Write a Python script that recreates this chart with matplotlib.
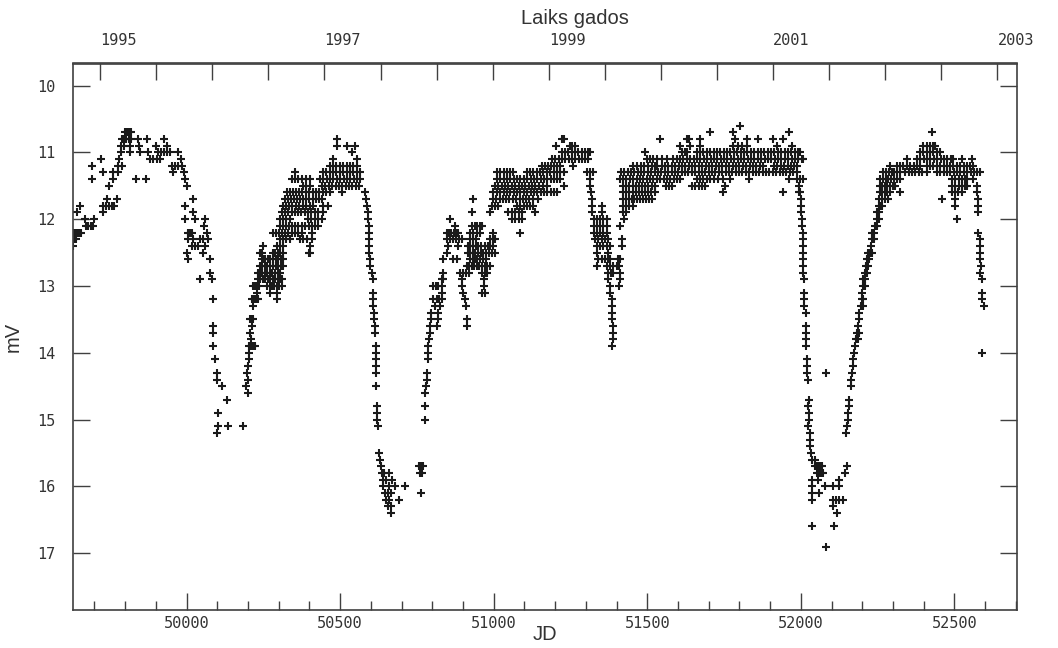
import matplotlib
matplotlib.use("Agg")
import matplotlib.pyplot as plt
from matplotlib.ticker import MultipleLocator

# Visual estimates, grouped by observing season.
# Each row: (magnitude mV, [JD - 2400000, ...])
season_1995 = [
    (10.7, [49799, 49806, 49812, 49818]),
    (10.8, [49790, 49797, 49804, 49811, 49818, 49841, 49871, 49926]),
    (10.9, [49787, 49797, 49815, 49845, 49900, 49936]),
    (11.0, [49786, 49815, 49848, 49874, 49907, 49917, 49927, 49937, 49946, 49972]),
    (11.1, [49721, 49779, 49880, 49892, 49904, 49913, 49981]),
    (11.2, [49692, 49776, 49789, 49952, 49962, 49972, 49985]),
    (11.3, [49727, 49760, 49776, 49955, 49991]),
    (11.4, [49692, 49760, 49835, 49867, 49994]),
    (11.5, [49747, 50001]),
    (11.7, [49740, 49773, 50021]),
    (11.8, [49652, 49727, 49736, 49746, 49756, 49765, 49994]),
    (11.9, [49643, 49727, 50021]),
    (12.0, [49669, 49698, 49994, 50027, 50060]),
    (12.1, [49672, 49680, 49688, 49695, 50056]),
    (12.2, [49630, 49636, 49642, 49648, 49655, 50004, 50011, 50017, 50066]),
    (12.3, [49632, 49640, 50004, 50021, 50043, 50053, 50070]),
    (12.4, [49630, 50017, 50027, 50037, 50060]),
    (12.5, [50001, 50053]),
    (12.6, [50004, 50076]),
    (12.8, [50076]),
    (12.9, [50043, 50082]),
    (13.2, [50086]),
    (13.6, [50086]),
    (13.7, [50086]),
    (13.9, [50086]),
    (14.1, [50092]),
    (14.3, [50099]),
    (14.4, [50099]),
    (14.5, [50115]),
    (14.7, [50131]),
    (14.9, [50102]),
    (15.1, [50102, 50135, 50183]),
    (15.2, [50099]),
]

season_1996 = [
    (14.6, [50200]),
    (14.5, [50193]),
    (14.4, [50200]),
    (14.3, [50196]),
    (14.2, [50200]),
    (14.1, [50203]),
    (14.0, [50203]),
    (13.9, [50203, 50210, 50216, 50222]),
    (13.8, [50209]),
    (13.7, [50206]),
    (13.6, [50213]),
    (13.5, [50206, 50211, 50216]),
    (13.3, [50216]),
    (13.2, [50213, 50220, 50226, 50232, 50294]),
    (13.1, [50229, 50271, 50294]),
    (13.0, [50216, 50222, 50229, 50235, 50262, 50270, 50278, 50286, 50294, 50302, 50310]),
    (12.9, [50232, 50240, 50248, 50256, 50264, 50272, 50281, 50289, 50297, 50305, 50310]),
    (12.8, [50232, 50239, 50247, 50255, 50263, 50271, 50279, 50288, 50297, 50304]),
    (12.7, [50239, 50247, 50255, 50263, 50272, 50281, 50290, 50299, 50306, 50314]),
    (12.6, [50245, 50248, 50256, 50264, 50272, 50281, 50290, 50298, 50306, 50314]),
    (12.5, [50239, 50245, 50281, 50289, 50297, 50305, 50314, 50398, 50402]),
    (12.4, [50248, 50294, 50304, 50314, 50402]),
    (12.3, [50304, 50314, 50325, 50336, 50369, 50380, 50392, 50408]),
    (12.2, [50281, 50290, 50300, 50310, 50320, 50330, 50343, 50353, 50364, 50375, 50408]),
    (12.1, [50304, 50314, 50324, 50334, 50344, 50354, 50364, 50375, 50386, 50398, 50408, 50418, 50428]),
    (12.0, [50304, 50314, 50325, 50336, 50395, 50405, 50418, 50428, 50441]),
    (11.9, [50310, 50320, 50330, 50343, 50353, 50363, 50373, 50385, 50395, 50405, 50418, 50428, 50444]),
    (11.8, [50314, 50324, 50334, 50344, 50356, 50366, 50378, 50390, 50402, 50411, 50444, 50460]),
    (11.7, [50320, 50330, 50340, 50350, 50360, 50370, 50380, 50390, 50400, 50410, 50420, 50430, 50441]),
    (11.6, [50327, 50337, 50347, 50357, 50367, 50377, 50388, 50399, 50410, 50421, 50432, 50443,
            50455, 50467, 50506, 50581]),
    (11.5, [50379, 50390, 50402, 50441, 50452, 50463, 50474, 50485, 50496, 50507, 50518, 50529,
            50540, 50551, 50562]),
    (11.4, [50343, 50353, 50363, 50375, 50388, 50402, 50434, 50445, 50456, 50467, 50478, 50489,
            50500, 50511, 50522, 50533, 50544, 50555, 50565]),
    (11.3, [50353, 50444, 50455, 50466, 50477, 50488, 50499, 50510, 50521, 50532, 50543, 50555, 50565]),
    (11.2, [50467, 50477, 50488, 50499, 50510, 50521, 50532, 50543, 50555]),
    (11.1, [50477, 50555]),
    (11.0, [50538]),
    (10.9, [50490, 50522, 50548]),
    (10.8, [50490]),
    # fade into the 1997 minimum
    (11.7, [50584]), (11.8, [50588]), (11.9, [50590]), (12.0, [50590]),
    (12.1, [50594]), (12.2, [50594]), (12.3, [50594]), (12.4, [50594]),
    (12.5, [50594]), (12.6, [50596]), (12.7, [50597]), (12.8, [50604]),
    (12.9, [50607]), (13.1, [50607]), (13.2, [50607]), (13.3, [50608]),
    (13.4, [50609]), (13.5, [50610]), (13.6, [50613]), (13.7, [50613]),
    (13.9, [50617]), (14.0, [50617]), (14.1, [50617]), (14.2, [50617]),
    (14.3, [50618]), (14.5, [50617]), (14.8, [50620]), (14.9, [50620]),
    (15.0, [50620]), (15.1, [50623]), (15.5, [50626]),
]

season_1998 = [
    (15.6, [50630]),
    (15.7, [50633]),
    (15.8, [50636, 50643, 50660]),
    (15.9, [50640, 50650, 50670]),
    (16.0, [50640, 50660, 50680, 50712]),
    (16.1, [50646, 50656, 50666]),
    (16.2, [50650, 50660, 50690]),
    (16.3, [50656, 50666]),
    (16.4, [50666]),
    (15.7, [50757, 50763, 50770]),
    (15.8, [50760, 50767]),
    (16.1, [50763]),
    (15.0, [50776]), (14.8, [50776]), (14.6, [50776]), (14.5, [50779]),
    (14.4, [50782]), (14.3, [50784]), (14.1, [50787]), (14.0, [50787]),
    (13.9, [50787]), (13.8, [50790]), (13.7, [50792]),
    (13.6, [50792, 50814, 50913]),
    (13.5, [50795, 50819, 50913]),
    (13.4, [50795, 50819]),
    (13.3, [50809, 50825, 50910]),
    (13.2, [50803, 50814, 50822, 50830, 50906]),
    (13.1, [50830, 50900, 50962, 50970]),
    (13.0, [50803, 50811, 50819, 50830, 50896, 50968]),
    (12.9, [50830, 50836, 50896, 50968]),
    (12.8, [50836, 50890, 50900, 50910, 50920, 50962, 50970, 50978]),
    (12.7, [50913, 50921, 50929, 50937, 50945, 50953, 50961, 50970, 50979, 50988]),
    (12.6, [50836, 50869, 50880, 50923, 50931, 50939, 50947, 50955, 50966, 50976]),
    (12.5, [50847, 50916, 50923, 50931, 50940, 50948, 50957, 50966, 50975, 50984, 50993, 51004]),
    (12.4, [50852, 50885, 50916, 50923, 50932, 50941, 50950, 50960, 50970, 50980, 50988, 50998]),
    (12.3, [50847, 50857, 50867, 50877, 50887, 50897, 50923, 50933, 50943, 50988, 50997, 51004]),
    (12.2, [50847, 50855, 50862, 50870, 50878, 50884, 50923, 50933, 50944, 50955, 50998, 51086]),
    (12.1, [50874, 50929, 50938, 50946, 50954, 50962]),
    (12.0, [50858, 51060, 51070, 51081, 51092]),
    (11.9, [50930, 50988, 51048, 51059, 51070, 51081, 51091, 51134]),
    (11.8, [50994, 51004, 51015, 51076, 51086, 51097, 51108, 51119, 51127]),
    (11.7, [50933, 50999, 51009, 51019, 51030, 51041, 51051, 51062, 51073, 51084, 51094, 51105,
            51116, 51127, 51143]),
    (11.6, [50999, 51010, 51021, 51032, 51043, 51054, 51065, 51076, 51087, 51098, 51109, 51120,
            51131, 51142, 51153, 51164, 51175, 51186, 51196, 51205]),
    (11.5, [51004, 51015, 51026, 51037, 51048, 51059, 51070, 51081, 51092, 51103, 51114, 51125,
            51136, 51147, 51160, 51172, 51229]),
    (11.4, [51010, 51021, 51032, 51043, 51054, 51065, 51076, 51087, 51098, 51109, 51120, 51131,
            51142, 51153, 51164, 51175, 51186, 51197, 51207, 51216]),
    (11.3, [51010, 51021, 51032, 51043, 51054, 51064, 51107, 51118, 51129, 51140, 51151, 51162,
            51173, 51184, 51195, 51206, 51216, 51229]),
    (11.2, [51156, 51166, 51176, 51186, 51196, 51206, 51216, 51259]),
    (11.1, [51189, 51200, 51211, 51222, 51233, 51244, 51255, 51266, 51277, 51288, 51298, 51308]),
    (11.0, [51221, 51232, 51243, 51254, 51265, 51276, 51287, 51298, 51308, 51314]),
    (10.9, [51203, 51248, 51256, 51265]),
    (10.8, [51221, 51230]),
    # the 1999 dip
    (11.3, [51304, 51314, 51324]),
    (11.4, [51314]), (11.5, [51314]), (11.6, [51316]), (11.7, [51319]),
    (11.8, [51319, 51352]),
    (11.9, [51320, 51352]),
    (12.0, [51325, 51335, 51346, 51357, 51369]),
    (12.1, [51325, 51335, 51346, 51357, 51369, 51411]),
    (12.2, [51325, 51335, 51346, 51357, 51369]),
    (12.3, [51330, 51341, 51352, 51363, 51373, 51418]),
    (12.4, [51335, 51346, 51357, 51369, 51379, 51418]),
    (12.5, [51335, 51373]),
    (12.6, [51341, 51352, 51363, 51373, 51379, 51405, 51411]),
    (12.7, [51335, 51368, 51379, 51390, 51400, 51408]),
    (12.8, [51373, 51383, 51390, 51410]),
    (12.9, [51373, 51410]),
    (13.0, [51379, 51408]),
    (13.1, [51379]), (13.2, [51384]), (13.3, [51385]), (13.4, [51386]),
    (13.5, [51386]), (13.6, [51388]), (13.7, [51388]), (13.8, [51388]), (13.9, [51386]),
]

season_2000 = [
    (12.0, [51425]),
    (11.9, [51422, 51430]),
    (11.8, [51422, 51430, 51440, 51452]),
    (11.7, [51422, 51431, 51440, 51449, 51458, 51467, 51476, 51486, 51496, 51506, 51516]),
    (11.6, [51422, 51432, 51442, 51452, 51462, 51472, 51482, 51492, 51502, 51512, 51525, 51748,
            51943, 51998]),
    (11.5, [51422, 51432, 51442, 51452, 51462, 51472, 51482, 51492, 51502, 51514, 51525, 51560,
            51570, 51580, 51645, 51656, 51667, 51678, 51688, 51752]),
    (11.4, [51411, 51421, 51432, 51443, 51454, 51465, 51476, 51487, 51498, 51509, 51520, 51531,
            51542, 51553, 51564, 51575, 51586, 51597, 51607, 51661, 51672, 51683, 51694, 51704,
            51716, 51730, 51748, 51770, 51830, 51960, 51987, 51997, 52008]),
    (11.3, [51414, 51425, 51436, 51447, 51458, 51469, 51480, 51491, 51502, 51513, 51524, 51535,
            51546, 51557, 51568, 51579, 51590, 51601, 51612, 51623, 51634, 51645, 51656, 51667,
            51678, 51689, 51700, 51711, 51722, 51733, 51744, 51755, 51766, 51777, 51788, 51799,
            51810, 51821, 51832, 51843, 51854, 51865, 51876, 51887, 51898, 51909, 51920, 51931,
            51942, 51953, 51964, 51975, 51987]),
    (11.2, [51455, 51466, 51478, 51490, 51502, 51514, 51526, 51531, 51547, 51558, 51569, 51580,
            51591, 51602, 51613, 51624, 51635, 51646, 51657, 51668, 51679, 51690, 51701, 51712,
            51723, 51734, 51745, 51756, 51767, 51778, 51789, 51800, 51811, 51822, 51833, 51844,
            51855, 51866, 51878, 51913, 51924, 51935, 51946, 51957, 51968, 51978, 51987]),
    (11.1, [51498, 51508, 51520, 51531, 51547, 51563, 51585, 51596, 51607, 51618, 51629, 51640,
            51651, 51662, 51673, 51684, 51695, 51706, 51717, 51728, 51739, 51750, 51761, 51772,
            51783, 51794, 51805, 51816, 51827, 51838, 51849, 51860, 51871, 51882, 51893, 51904,
            51915, 51926, 51937, 51948, 51959, 51970, 51981, 51992, 52003, 52008]),
    (11.0, [51493, 51612, 51622, 51628, 51661, 51672, 51683, 51694, 51705, 51716, 51727, 51738,
            51749, 51760, 51771, 51782, 51793, 51804, 51815, 51826, 51837, 51848, 51859, 51870,
            51881, 51892, 51903, 51914, 51925, 51936, 51947, 51958, 51969, 51980, 51990, 51998]),
    (10.9, [51607, 51639, 51672, 51780, 51795, 51810, 51824, 51922, 51970]),
    (10.8, [51541, 51628, 51636, 51672, 51785, 51824, 51862, 51909, 51941]),
    (10.7, [51704, 51780, 51960]),
    (10.6, [51802]),
    # fade into the 2001 minimum
    (11.5, [51994]), (11.6, [51994]), (11.7, [52000]), (11.8, [52002]),
    (11.9, [52002]), (12.0, [52004]), (12.1, [52004]), (12.2, [52006]),
    (12.3, [52006]), (12.4, [52006]), (12.5, [52008]), (12.6, [52008]),
    (12.7, [52008]), (12.8, [52008]), (12.9, [52011]), (13.1, [52011]),
    (13.2, [52011]), (13.3, [52011]), (13.4, [52017]), (13.6, [52017]),
    (13.7, [52017]), (13.8, [52017]), (13.9, [52017]), (14.1, [52021]),
    (14.2, [52019]), (14.3, [52019, 52082]), (14.4, [52025]), (14.7, [52028]),
    (14.8, [52025]), (14.9, [52028]), (15.0, [52028]), (15.1, [52025]),
    (15.2, [52030]), (15.3, [52030]), (15.4, [52030]), (15.5, [52032]),
    (15.6, [52036, 52046]),
    (15.7, [52046, 52052, 52057, 52063, 52068]),
    (15.8, [52052, 52057, 52063, 52068, 52073]),
    (15.9, [52036, 52057]),
    (16.0, [52036, 52079]),
    (16.1, [52036, 52060]),
    (16.2, [52036]),
    (16.6, [52036]),
    (16.9, [52082]),
]

season_2002 = [
    (16.0, [52106, 52125]),
    (15.9, [52125]),
    (15.8, [52144]),
    (15.7, [52150]),
    (16.2, [52106, 52115, 52125, 52139]),
    (16.3, [52106]),
    (16.4, [52119]),
    (16.6, [52108]),
    (15.2, [52147]), (15.1, [52152]), (15.0, [52155]), (14.9, [52155]),
    (14.8, [52158]), (14.7, [52158]), (14.5, [52163]), (14.4, [52163]),
    (14.3, [52166]), (14.2, [52169]), (14.1, [52171]), (14.0, [52173]),
    (13.9, [52177]), (13.8, [52180, 52186]), (13.7, [52182, 52188]),
    (13.6, [52187]), (13.5, [52191]), (13.4, [52191]),
    (13.3, [52195, 52201]), (13.2, [52198, 52204]), (13.1, [52198]),
    (13.0, [52202, 52208]), (12.9, [52202, 52208]), (12.8, [52209, 52215]),
    (12.7, [52212, 52218]), (12.6, [52217, 52223]), (12.5, [52220, 52226, 52232]),
    (12.4, [52228]), (12.3, [52231, 52237]), (12.2, [52231, 52237]),
    (12.1, [52242, 52248]), (12.0, [52247, 52253]), (11.9, [52247, 52253]),
    (11.8, [52253, 52259, 52265]),
    (11.7, [52256, 52264, 52274, 52285, 52459, 52502, 52578]),
    (11.6, [52258, 52266, 52274, 52282, 52291, 52323, 52492, 52502, 52513, 52524, 52573]),
    (11.5, [52258, 52266, 52274, 52282, 52291, 52299, 52307, 52492, 52503, 52514, 52525,
            52535, 52540, 52573]),
    (11.4, [52258, 52267, 52276, 52285, 52294, 52303, 52312, 52323, 52492, 52503, 52514,
            52525, 52535, 52540, 52562]),
    (11.3, [52269, 52278, 52287, 52296, 52305, 52314, 52323, 52340, 52351, 52362, 52373,
            52384, 52395, 52410, 52443, 52454, 52465, 52476, 52487, 52498, 52509, 52520,
            52531, 52542, 52553, 52564, 52575, 52584]),
    (11.2, [52291, 52313, 52323, 52334, 52345, 52356, 52367, 52378, 52388, 52410, 52421,
            52432, 52443, 52454, 52465, 52476, 52487, 52497, 52508, 52519, 52530, 52541,
            52551, 52562]),
    (11.1, [52345, 52378, 52389, 52400, 52411, 52422, 52433, 52444, 52455, 52466, 52477,
            52488, 52497, 52524, 52557]),
    (11.0, [52388, 52399, 52410, 52421, 52432, 52443, 52453]),
    (10.9, [52399, 52410, 52421, 52432, 52437]),
    (10.7, [52426]),
    (11.8, [52502, 52578]),
    (11.9, [52578]),
    (12.0, [52508]),
    (12.2, [52578]), (12.3, [52582]), (12.4, [52582]), (12.5, [52584]),
    (12.6, [52584]), (12.7, [52586]), (12.8, [52584]), (12.9, [52589]),
    (13.1, [52589]), (13.2, [52589]), (13.3, [52595]), (14.0, [52589]),
]

seasons = [season_1995, season_1996, season_1998, season_2000, season_2002]

jd = []
mag = []
for season in seasons:
    for m, days in season:
        jd += days
        mag += [m] * len(days)


def jd_to_year(x):
    return 2000 + (x - 51544.5) / 365.25


def year_to_jd(y):
    return 51544.5 + (y - 2000) * 365.25


tick_font = {'family': 'DejaVu Sans Mono', 'size': 11}
label_font = {'family': 'Liberation Sans', 'size': 14.5, 'color': '#333333'}
frame_col = '#404040'

fig = plt.figure(figsize=(10.58, 6.48), dpi=100)
ax = fig.add_axes([73 / 1058, 1 - 610 / 648, 944 / 1058, 546.5 / 648])

ax.plot(jd, mag, '+', color='#1a1a1a', ms=5.5, mew=1.5, ls='none')

ax.set_xlim(49630, 52704)
ax.set_ylim(17.85, 9.67)

ax.set_xticks(range(50000, 52501, 500))
ax.xaxis.set_minor_locator(MultipleLocator(100))
ax.set_yticks(range(10, 18))
ax.tick_params(axis='both', which='major', direction='in', length=12.5, width=1,
               color=frame_col, top=False, right=True, labelcolor='#333333')
ax.tick_params(axis='x', which='minor', direction='in', length=6.5, width=1,
               color=frame_col, top=False)
ax.tick_params(axis='x', which='major', pad=4)
ax.tick_params(axis='y', which='major', pad=13)
for lab in ax.get_xticklabels() + ax.get_yticklabels():
    lab.set_fontfamily(tick_font['family'])
    lab.set_fontsize(tick_font['size'])

for sp in ax.spines.values():
    sp.set_color(frame_col)
    sp.set_linewidth(1.2)

# calendar years on top
top = ax.secondary_xaxis('top', functions=(jd_to_year, year_to_jd))
half_years = [1995 + 0.5 * i for i in range(17)]
top_labels = [str(int(y)) if (y % 2 == 1) else '' for y in half_years]
top.set_xticks(half_years, labels=top_labels)
top.tick_params(direction='in', length=12.5, width=1, color=frame_col, pad=11,
                labelcolor='#333333')
for lab in top.get_xticklabels():
    lab.set_fontfamily(tick_font['family'])
    lab.set_fontsize(tick_font['size'])
    lab.set_horizontalalignment('left')
top.spines['top'].set_color(frame_col)
top.spines['top'].set_linewidth(1.2)

ax.set_ylabel('mV', fontdict=label_font, labelpad=10)
fig.text(545 / 1058, 1 - 634 / 648, 'JD', ha='center', va='center', **label_font)
fig.text(575 / 1058, 1 - 18 / 648, 'Laiks gados', ha='center', va='center', **label_font)

fig.savefig('out.png', dpi=100, facecolor='white')
